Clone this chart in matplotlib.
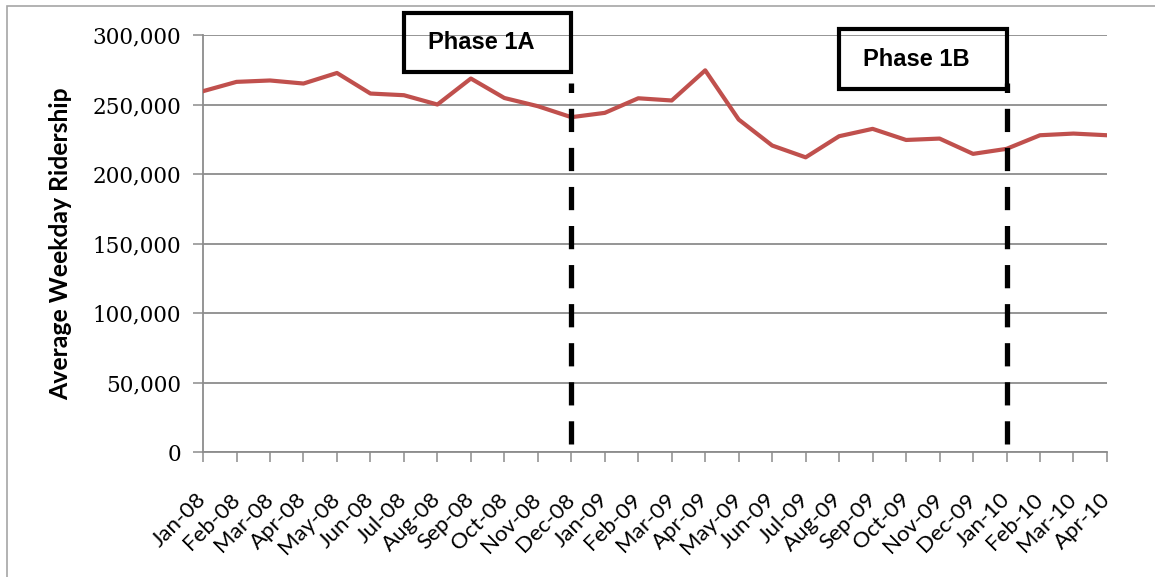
import numpy as np
import matplotlib.pyplot as plt
from matplotlib.patches import Rectangle
from matplotlib.ticker import FuncFormatter

months = ["Jan-08", "Feb-08", "Mar-08", "Apr-08", "May-08", "Jun-08", "Jul-08",
          "Aug-08", "Sep-08", "Oct-08", "Nov-08", "Dec-08", "Jan-09", "Feb-09",
          "Mar-09", "Apr-09", "May-09", "Jun-09", "Jul-09", "Aug-09", "Sep-09",
          "Oct-09", "Nov-09", "Dec-09", "Jan-10", "Feb-10", "Mar-10", "Apr-10"]
ridership = [259600, 266300, 267300, 265100, 272700, 257900, 256700,
             250000, 268700, 254700, 248800, 240900, 244000, 254500,
             252900, 274600, 239200, 220500, 212000, 227200, 232500,
             224500, 225500, 214500, 218100, 227900, 229100, 227900]
phases = ["Phase 1A", "Phase 1B"]
phase_start = ["Dec-08", "Jan-10"]

line_red = "#C0504D"
grid_grey = "#8c8c8c"

fig = plt.figure(figsize=(11.55, 5.77), dpi=100)
ax = fig.add_axes([0.1758, 0.2166, 0.7826, 0.7227])

x = np.arange(len(months))
ax.plot(x, ridership, color=line_red, lw=3.0, solid_joinstyle="round", zorder=3)

ax.set_xlim(0, len(months) - 1)
ax.set_ylim(0, 300000)
ax.set_yticks(np.arange(0, 300001, 50000))
ax.yaxis.set_major_formatter(FuncFormatter(lambda v, p: f"{int(v):,}"))
ax.set_xticks(x)
ax.set_xticklabels(months, rotation=45, ha="right", va="center",
                   rotation_mode="anchor", fontsize=16, family="Lato")
for lbl in ax.get_yticklabels():
    lbl.set_fontsize(15.5)
    lbl.set_family("DejaVu Serif")

ax.grid(axis="y", color=grid_grey, lw=1.3)
ax.set_axisbelow(True)
for side in ["top", "right"]:
    ax.spines[side].set_visible(False)
for side in ["left", "bottom"]:
    ax.spines[side].set_color(grid_grey)
    ax.spines[side].set_linewidth(1.3)
ax.tick_params(axis="both", direction="out", length=7, width=1.1, color=grid_grey)
ax.tick_params(axis="y", pad=9)
ax.tick_params(axis="x", pad=25)

ax.set_ylabel("Average Weekday Ridership", fontsize=17.8, fontweight="bold",
              family="Lato", labelpad=14)

# phase boxes and dashed start lines
xt = ax.get_xaxis_transform()
box_bottom = [0.911, 0.8705]
box_top = [1.053, 1.0144]
for name, start, b, t in zip(phases, phase_start, box_bottom, box_top):
    i = months.index(start)
    ax.add_patch(Rectangle((i - 5, b), 5, t - b, transform=xt, fill=False,
                           ec="black", lw=3.0, clip_on=False, zorder=5))
    ax.text(i - 2.7, (b + t) / 2, name, transform=xt, ha="center", va="center",
            fontsize=17, fontweight="bold", family="Liberation Sans", zorder=6)
    ax.plot([i, i], [0.02, 0.885], transform=xt, color="black", lw=3.8,
            dashes=(4.4, 3.0), solid_capstyle="butt", dash_capstyle="butt",
            clip_on=False, zorder=4)

# light outer frame
fig.patches.append(Rectangle((7 / 1155, -0.02), 1.05, 1 - 6 / 577 + 0.02,
                             transform=fig.transFigure, fill=False,
                             ec="#a6a6a6", lw=1.2))

fig.savefig("out.png", dpi=100)
